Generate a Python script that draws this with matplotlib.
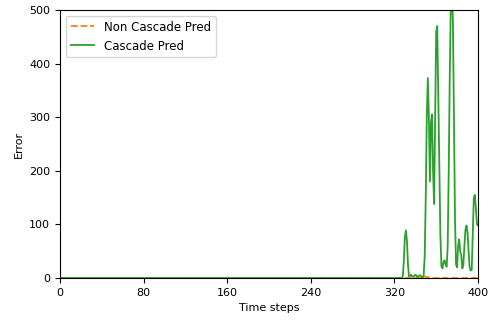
import numpy as np
import matplotlib
matplotlib.use("Agg")
import matplotlib.pyplot as plt

plt.rcParams['font.size'] = 8

# time steps 0..400, errors are ~0 before step 325
steps = np.arange(0, 401)

# cascade pred error, steps 325..400
cascade_tail = [0, 0, 0, 3, 30, 75, 89, 70, 25, 3,
                4, 6, 3, 2, 4, 6, 5, 2, 3, 5,
                5, 2, 1, 5, 40, 150, 300, 373, 300, 180,
                290, 305, 200, 138, 300, 460, 470, 340, 200, 80,
                22, 18, 30, 33, 25, 21, 60, 200, 380, 510,
                540, 480, 300, 110, 25, 20, 60, 72, 50, 42,
                18, 25, 60, 90, 98, 85, 50, 20, 14, 15,
                80, 150, 155, 130, 100, 98]

# non cascade pred error, steps 325..400 (almost flat)
noncascade_tail = [0, 0, 0, 0, 0, 0, 0, 0, 0, 0,
                   0, 0, 0, 0, 0, 0, 0, 0, 0, 0,
                   1, 2, 3, 3, 3, 2, 2, 1, 1, 1,
                   1, 0, 0, 0, 0, 0, 0, 0, 0, 0,
                   0, 0, 0, 0, 0, 0, 0, 0, 0, 0,
                   0, 0, 0, 0, 0, 0, 0, 0, 0, 0,
                   0, 0, 0, 0, 0, 0, 0, 0, 0, 0,
                   0, 0, 0, 0, 0, 0]

cascade = np.concatenate([np.zeros(325), cascade_tail])
noncascade = np.concatenate([np.zeros(325), noncascade_tail])

fig = plt.figure(figsize=(4.9, 3.22), dpi=100)
ax = fig.add_axes([0.1224, 0.1366, 0.8531, 0.8324])

ax.plot(steps, noncascade, '--', color='C1', linewidth=1.3, label='Non Cascade Pred')
ax.plot(steps, cascade, '-', color='C2', linewidth=1.3, label='Cascade Pred')

ax.set_xlim(0, 400)
ax.set_ylim(0, 500)
ax.set_xticks(np.arange(0, 401, 80))
ax.set_yticks(np.arange(0, 501, 100))
ax.set_xlabel('Time steps')
ax.set_ylabel('Error')
ax.legend(loc='upper left', fontsize=8.5)

fig.savefig('out.png', dpi=100)
